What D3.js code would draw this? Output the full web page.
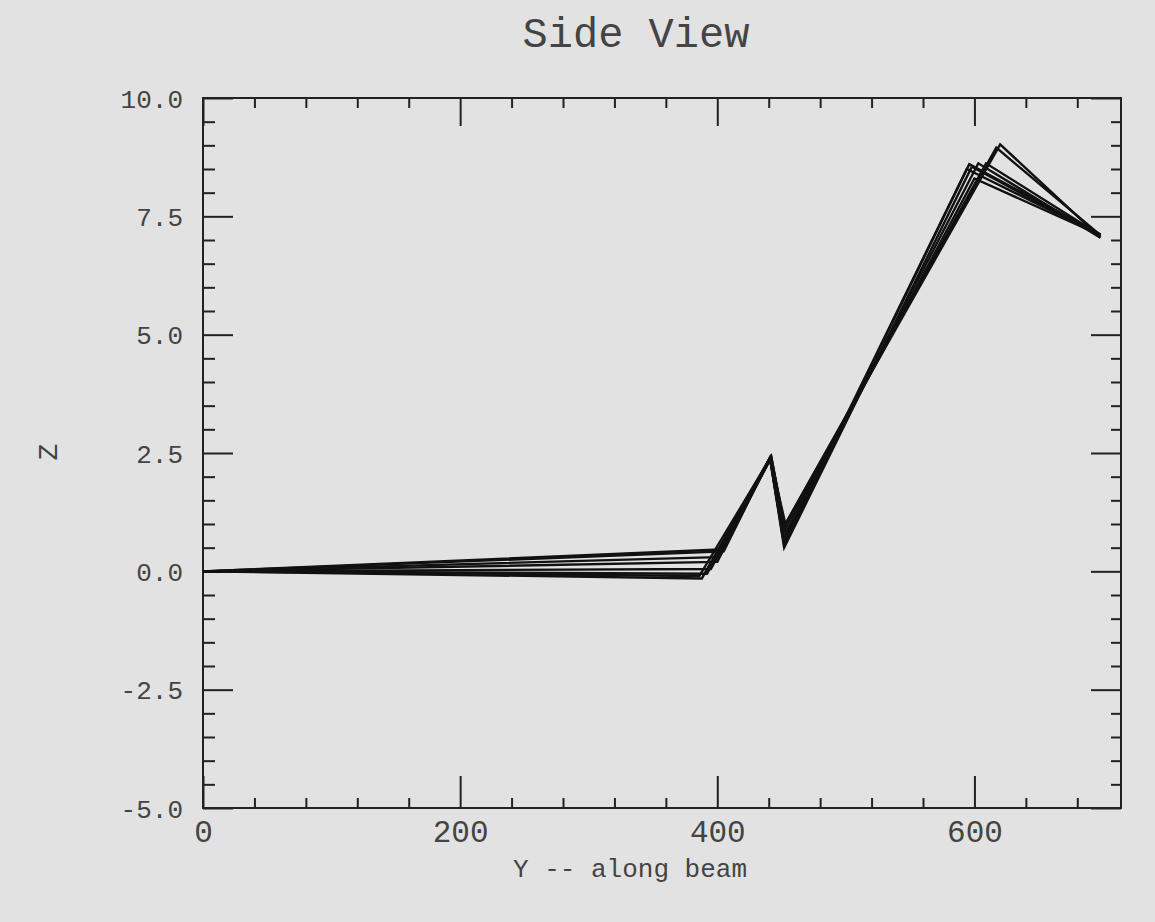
<!DOCTYPE html>
<html>
<head>
<meta charset="utf-8">
<script src="https://cdn.jsdelivr.net/npm/d3@7"></script>
<style>
  html, body { margin: 0; padding: 0; background: #e2e2e2; }
  svg { display: block; }
  text { font-family: "Liberation Mono", "DejaVu Sans Mono", monospace; fill: #444; }
</style>
</head>
<body>
<div id="chart"></div>
<script>
// Tick values
const xMajorTicks = [0, 200, 400, 600];
const xMinorTicks = d3.range(40, 714, 40).filter(v => v % 200 !== 0);
const zMajorTicks = [-5, -2.5, 0, 2.5, 5, 7.5, 10];
const zMinorTicks = d3.range(-4.5, 10, 0.5).filter(v => v % 2.5 !== 0);

// Traced runs: [Y along beam, Z]
const run1 = [[0, 0], [388, -0.15], [441, 2.4], [452, 0.5], [598, 8.55], [698, 7.08]];
const run2 = [[0, 0], [386, -0.1], [441, 2.38], [452, 0.6], [594, 8.5], [698, 7.1]];
const run3 = [[0, 0], [395, 0.05], [441, 2.4], [452, 0.7], [603, 8.62], [698, 7.05]];
const run4 = [[0, 0], [400, 0.2], [442, 2.42], [453, 0.8], [600, 8.3], [698, 7.1]];
const run5 = [[0, 0], [400, 0.3], [442, 2.4], [453, 0.9], [609, 8.62], [698, 7.1]];
const run6 = [[0, 0], [405, 0.42], [441, 2.4], [453, 1.0], [617, 8.95], [698, 7.1]];
const run7 = [[0, 0], [402, 0.46], [442, 2.4], [452, 0.95], [620, 9.02], [698, 7.05]];
const run8 = [[0, 0], [392, -0.05], [441, 2.4], [452, 0.55], [596, 8.6], [698, 7.12]];
const runs = [run1, run2, run3, run4, run5, run6, run7, run8];

const width = 1155, height = 922;
const plotLeft = 203, plotRight = 1121, plotTop = 98, plotBottom = 808;

const svg = d3.select('#chart').append('svg')
    .attr('width', width)
    .attr('height', height);

const x = d3.scaleLinear().domain([0, 714]).range([plotLeft, plotRight]);
const z = d3.scaleLinear().domain([-5, 10]).range([plotBottom, plotTop]);

// Helper to draw tick-only axes (no domain path)
function tickAxis(axis, tx, ty) {
    const g = svg.append('g')
        .attr('transform', `translate(${tx},${ty})`)
        .call(axis);
    g.select('.domain').remove();
    g.selectAll('line').attr('stroke', '#222').attr('stroke-width', 2);
    return g;
}

// Minor ticks on all four sides
tickAxis(d3.axisBottom(x).tickValues(xMinorTicks).tickSize(-10).tickFormat(''), 0, plotBottom);
tickAxis(d3.axisTop(x).tickValues(xMinorTicks).tickSize(-10).tickFormat(''), 0, plotTop);
tickAxis(d3.axisLeft(z).tickValues(zMinorTicks).tickSize(-12).tickFormat(''), plotLeft, 0);
tickAxis(d3.axisRight(z).tickValues(zMinorTicks).tickSize(-10).tickFormat(''), plotRight, 0);

// Major ticks
const xBottom = tickAxis(d3.axisBottom(x).tickValues(xMajorTicks).tickSize(-32).tickFormat(d => d), 0, plotBottom);
xBottom.selectAll('text')
    .attr('y', 34)
    .attr('dy', 0)
    .style('font-size', '31px')
    .style('font-family', '"Liberation Mono", monospace')
    .attr('fill', '#444');
tickAxis(d3.axisTop(x).tickValues(xMajorTicks).tickSize(-28).tickFormat(''), 0, plotTop);

const zLeft = tickAxis(d3.axisLeft(z).tickValues(zMajorTicks).tickSize(-30).tickPadding(20)
    .tickFormat(d => d.toFixed(1)), plotLeft, 0);
zLeft.selectAll('text')
    .attr('dy', '0.35em')
    .style('font-size', '26px')
    .style('font-family', '"Liberation Mono", monospace')
    .attr('fill', '#444');
tickAxis(d3.axisRight(z).tickValues(zMajorTicks).tickSize(-30).tickFormat(''), plotRight, 0);

// Frame
svg.append('rect')
    .attr('x', plotLeft)
    .attr('y', plotTop)
    .attr('width', plotRight - plotLeft)
    .attr('height', plotBottom - plotTop)
    .attr('fill', 'none')
    .attr('stroke', '#222')
    .attr('stroke-width', 2);

// Runs
const line = d3.line().x(d => x(d[0])).y(d => z(d[1]));
svg.append('g').selectAll('path')
    .data(runs)
    .enter()
    .append('path')
    .attr('d', line)
    .attr('fill', 'none')
    .attr('stroke', '#111')
    .attr('stroke-width', 2.4)
    .attr('stroke-linejoin', 'miter');

// Titles
svg.append('text')
    .attr('x', 636)
    .attr('y', 47)
    .attr('text-anchor', 'middle')
    .style('font-size', '42px')
    .text('Side View');

svg.append('text')
    .attr('x', 630)
    .attr('y', 877)
    .attr('text-anchor', 'middle')
    .style('font-size', '26px')
    .text('Y -- along beam');

svg.append('text')
    .attr('transform', 'translate(57,452) rotate(-90)')
    .attr('text-anchor', 'middle')
    .style('font-size', '28px')
    .text('Z');
</script>
</body>
</html>
